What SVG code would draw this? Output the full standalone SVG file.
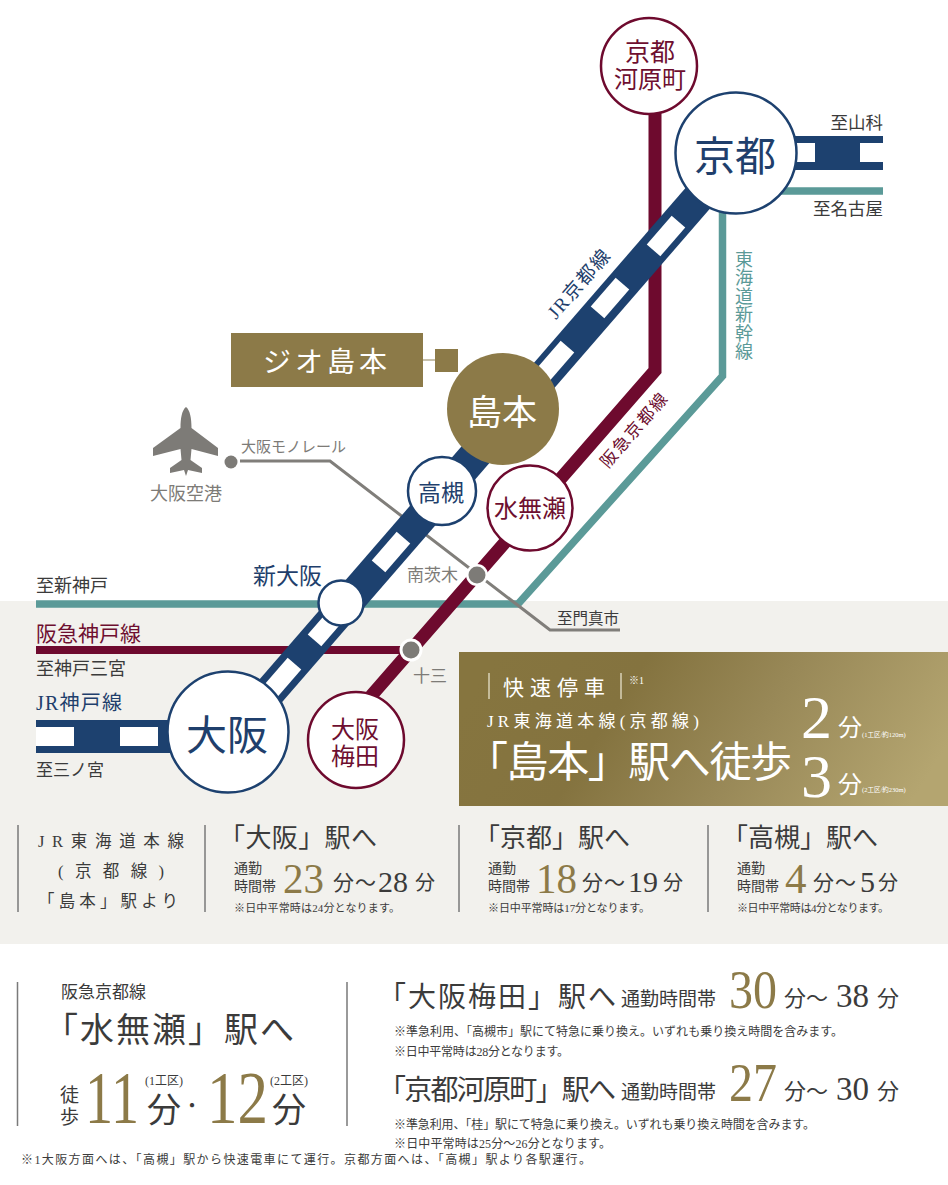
<svg xmlns="http://www.w3.org/2000/svg" xmlns:xlink="http://www.w3.org/1999/xlink" width="948" height="1185" viewBox="0 0 948 1185">
<style>
text{font-family:"Liberation Serif","Noto Sans CJK JP",serif;fill:#3b3b3b}
.m{text-anchor:middle}.e{text-anchor:end}
.n{fill:#1f3f6c}.r{fill:#6e0f30}.g{fill:#7d7b77}.t{fill:#5b9a98}.w{fill:#fff}.o{fill:#8c7a48}
.cw{fill:#fff;stroke-width:2.5}
.nv{stroke:#1d416f}.rd{stroke:#6e0a2e}
.ln{fill:none}
.bar{stroke:#7a7a7a;stroke-width:1.5}
.wb{stroke:#d9d2b8;stroke-width:1.5}
</style>
<defs>
<linearGradient id="gold" x1="0" y1="0.4" x2="1" y2="0.6"><stop offset="0" stop-color="#86753f"/><stop offset="0.3" stop-color="#84733f"/><stop offset="0.6" stop-color="#988857"/><stop offset="1" stop-color="#b4a570"/></linearGradient>
<rect id="st" x="-19" y="-9" width="38" height="18" fill="#fff"/>
</defs>
<rect width="948" height="1185" fill="#fff"/>
<rect id="band" x="0" y="601" width="948" height="343" fill="#f2f1ed"/>
<g id="connectors">
<path class="ln" d="M883 191H722.500V376L518 604H36" stroke="#5b9a98" stroke-width="7.500"/>
<path class="ln" d="M36 650H405" stroke="#6e0a2e" stroke-width="8"/>
<path class="ln" d="M240 461H330L550 630H620" stroke="#807e7a" stroke-width="3"/>
<path class="ln" d="M655 100V370.500L371 696" stroke="#6e0a2e" stroke-width="13"/>
<path class="ln" d="M229 739L737 153" stroke="#1d416f" stroke-width="32"/>
<path class="ln" d="M737 153H883" stroke="#1d416f" stroke-width="34"/>
<path class="ln" d="M36 736.500H229" stroke="#1d416f" stroke-width="33"/>
<g id="rail-stripes">
<use xlink:href="#st" href="#st" transform="translate(666 236) rotate(-49)"/>
<use xlink:href="#st" href="#st" transform="translate(610 298) rotate(-49)"/>
<use xlink:href="#st" href="#st" transform="translate(555 361) rotate(-49)"/>
<use xlink:href="#st" href="#st" transform="translate(391 552) rotate(-49)"/>
<use xlink:href="#st" href="#st" transform="translate(327 626) rotate(-49)"/>
<use xlink:href="#st" href="#st" transform="translate(282 678) rotate(-49)"/>
<rect x="790" y="143" width="25" height="19" fill="#fff"/>
<rect x="860" y="143" width="24" height="19" fill="#fff"/>
<rect x="36" y="727" width="38" height="19" fill="#fff"/>
<rect x="120" y="727" width="38" height="19" fill="#fff"/>
</g>
<path class="ln" d="M423 360H435" stroke="#b5ad92" stroke-width="1.500"/>
</g>
<g id="line-labels">
<text class="n" font-size="19" transform="translate(556 320) rotate(-49)" textLength="84">JR京都線</text>
<text class="r" font-size="17" transform="translate(608 469) rotate(-49)" textLength="92">阪急京都線</text>
<text class="t" font-size="18" x="742" y="250" style="writing-mode:vertical-rl;letter-spacing:0.500px">東海道新幹線</text>
<text font-size="17.500" class="e" x="883" y="129">至山科</text>
<text font-size="17.500" class="e" x="883" y="215">至名古屋</text>
<text class="g" font-size="15" x="241" y="452">大阪モノレール</text>
<text font-size="15.500" x="557" y="624">至門真市</text>
<text font-size="18" x="36" y="592">至新神戸</text>
<text class="r" font-size="21" x="36" y="641">阪急神戸線</text>
<text font-size="18" x="36" y="675">至神戸三宮</text>
<text class="n" font-size="20" x="36" y="710" textLength="86">JR神戸線</text>
<text font-size="17" x="36" y="776">至三ノ宮</text>
</g>
<g id="kawaramachi">
<circle class="cw rd" cx="649" cy="66" r="48"/>
<text class="r m" font-size="25" x="650" y="61">京都</text>
<text class="r m" font-size="24" x="650" y="88">河原町</text>
</g>
<g id="kyoto">
<circle class="cw nv" cx="736" cy="153" r="60.500"/>
<text class="n m" font-size="41" x="735" y="171">京都</text>
</g>
<g id="geo-shimamoto">
<rect x="231" y="333" width="192" height="54" fill="#8c7a48"/>
<text class="w" font-size="28" x="263" y="372" style="letter-spacing:4px">ジオ島本</text>
<rect x="435" y="349" width="23" height="23" fill="#8c7a48"/>
</g>
<g id="shimamoto">
<circle cx="503" cy="409" r="56" fill="#8c7a48"/>
<text class="w m" font-size="35" x="502" y="425">島本</text>
</g>
<g id="osaka-airport">
<path fill="#7d7b77" d="M186 407C190 410 191.500 418 191.500 428L218 448V456L191.500 449L190.500 460L202 468V473L188 470L186 476L184 470L170 473V468L181.500 460L180.500 449L153 456V448L180.500 428C180.500 418 182 410 186 407Z"/>
<text class="g m" font-size="18" x="186" y="500">大阪空港</text>
<circle cx="231" cy="462" r="6.500" fill="#7d7b77"/>
</g>
<g id="takatsuki">
<circle class="cw nv" cx="442" cy="491" r="34"/>
<text class="n m" font-size="23" x="441" y="501">高槻</text>
</g>
<g id="minase">
<circle class="cw rd" cx="530" cy="508" r="42.500"/>
<text class="r m" font-size="24" x="530" y="517">水無瀬</text>
</g>
<g id="shin-osaka">
<circle class="cw nv" cx="341" cy="603" r="22.500"/>
<text class="n" font-size="23" x="253" y="584">新大阪</text>
</g>
<g id="minami-ibaraki">
<circle cx="477" cy="575" r="11" fill="#fff"/>
<circle cx="477" cy="575" r="8.500" fill="#7d7b77"/>
<text class="g" font-size="17" x="407" y="581">南茨木</text>
</g>
<g id="juso">
<circle cx="411" cy="650" r="11.500" fill="#fff"/>
<circle cx="411" cy="650" r="8.500" fill="#7d7b77"/>
<text class="g" font-size="17" x="413" y="682">十三</text>
</g>
<g id="osaka">
<circle class="cw nv" cx="228" cy="732" r="60.500"/>
<text class="n m" font-size="41" x="227" y="750">大阪</text>
</g>
<g id="umeda">
<circle class="cw rd" cx="356" cy="740" r="48"/>
<text class="r m" font-size="24" x="355" y="738">大阪</text>
<text class="r m" font-size="24" x="355" y="765">梅田</text>
</g>
<g id="rapid-panel">
<rect x="459" y="652" width="489" height="154" fill="url(#gold)"/>
<path class="wb" d="M489 673V699M621 673V699"/>
<text class="w" font-size="21" x="503" y="695" style="letter-spacing:6px">快速停車</text>
<text class="w" font-size="10" x="629" y="684">※1</text>
<text class="w" font-size="17" x="487" y="727" textLength="212">JR東海道本線(京都線)</text>
<text class="w" font-size="42" x="466" y="777" textLength="326">「島本」駅へ徒歩</text>
<text class="w" font-size="62" x="801" y="738">2</text>
<text class="w" font-size="24" x="838" y="736">分</text>
<text class="w" font-size="6.500" x="862" y="737">(1工区/約120m)</text>
<text class="w" font-size="62" x="801" y="797">3</text>
<text class="w" font-size="24" x="838" y="793">分</text>
<text class="w" font-size="6.500" x="862" y="792">(2工区/約230m)</text>
</g>
<g id="jr-times">
<path class="bar" d="M18 825V912M205 825V912M459 825V912M708 825V912"/>
<text class="m" font-size="16.500" x="111" y="847" textLength="146">JR東海道本線</text>
<text class="m" font-size="16.500" x="111" y="877" textLength="106">(京都線)</text>
<text class="m" font-size="16.500" x="108" y="907" textLength="140">「島本」駅より</text>
<g id="to-osaka">
<text font-size="26" x="219" y="847" textLength="158">「大阪」駅へ</text>
<text font-size="14" x="234" y="873">通勤</text>
<text font-size="14" x="234" y="891">時間帯</text>
<text class="o" font-size="43" x="283" y="893" textLength="41" lengthAdjust="spacingAndGlyphs">23</text>
<text font-size="21" x="333" y="890">分</text><text font-size="21" x="355" y="890">～</text>
<text font-size="30" x="378" y="892">28</text>
<text font-size="20" x="415" y="890">分</text>
<text font-size="11" x="234" y="912" textLength="166">※日中平常時は24分となります。</text>
</g>
<g id="to-kyoto">
<text font-size="26" x="474" y="847" textLength="156">「京都」駅へ</text>
<text font-size="14" x="488" y="873">通勤</text>
<text font-size="14" x="488" y="891">時間帯</text>
<text class="o" font-size="43" x="536" y="893" textLength="41" lengthAdjust="spacingAndGlyphs">18</text>
<text font-size="21" x="582" y="890">分</text><text font-size="21" x="604" y="890">～</text>
<text font-size="30" x="628" y="892">19</text>
<text font-size="20" x="663" y="890">分</text>
<text font-size="11" x="488" y="912" textLength="162">※日中平常時は17分となります。</text>
</g>
<g id="to-takatsuki">
<text font-size="26" x="722" y="847" textLength="156">「高槻」駅へ</text>
<text font-size="14" x="737" y="873">通勤</text>
<text font-size="14" x="737" y="891">時間帯</text>
<text class="o" font-size="43" x="785" y="893">4</text>
<text font-size="21" x="813" y="890">分</text><text font-size="21" x="835" y="890">～</text>
<text font-size="30" x="860" y="892">5</text>
<text font-size="20" x="878" y="890">分</text>
<text font-size="11" x="737" y="912" textLength="152">※日中平常時は4分となります。</text>
</g>
</g>
<g id="minase-panel">
<path class="bar" d="M17.500 982V1126M347 982V1126"/>
<text font-size="17" x="61" y="998">阪急京都線</text>
<text font-size="34" x="44" y="1042" textLength="250">「水無瀬」駅へ</text>
<text font-size="19" x="60" y="1102">徒</text>
<text font-size="19" x="60" y="1124">歩</text>
<text class="o" font-size="73" x="85" y="1123" textLength="54" lengthAdjust="spacingAndGlyphs">11</text>
<text font-size="34" x="147" y="1122">分</text>
<text font-size="12" x="145" y="1085">(1工区)</text>
<text font-size="20" class="m" x="192" y="1113">・</text>
<text class="o" font-size="73" x="207" y="1123" textLength="61" lengthAdjust="spacingAndGlyphs">12</text>
<text font-size="34" x="272" y="1122">分</text>
<text font-size="12" x="270" y="1085">(2工区)</text>
</g>
<g id="hankyu-times">
<text font-size="28" x="378" y="1007" textLength="238">「大阪梅田」駅へ</text>
<text font-size="19" x="621" y="1006">通勤時間帯</text>
<text class="o" font-size="54" x="729" y="1008" textLength="48" lengthAdjust="spacingAndGlyphs">30</text>
<text font-size="22" x="784" y="1006">分</text><text font-size="22" x="806" y="1006">～</text>
<text font-size="33" x="836" y="1007">38</text>
<text font-size="22" x="877" y="1006">分</text>
<text font-size="12" x="394" y="1036" textLength="449">※準急利用、「高槻市」駅にて特急に乗り換え。いずれも乗り換え時間を含みます。</text>
<text font-size="12" x="394" y="1056" textLength="175">※日中平常時は28分となります。</text>
<text font-size="28" x="378" y="1100" textLength="238">「京都河原町」駅へ</text>
<text font-size="19" x="621" y="1099">通勤時間帯</text>
<text class="o" font-size="54" x="729" y="1101" textLength="48" lengthAdjust="spacingAndGlyphs">27</text>
<text font-size="22" x="784" y="1099">分</text><text font-size="22" x="806" y="1099">～</text>
<text font-size="33" x="836" y="1100">30</text>
<text font-size="22" x="877" y="1099">分</text>
<text font-size="12" x="394" y="1129" textLength="421">※準急利用、「桂」駅にて特急に乗り換え。いずれも乗り換え時間を含みます。</text>
<text font-size="12" x="394" y="1148" textLength="217">※日中平常時は25分～26分となります。</text>
</g>
<text font-size="12" x="21" y="1164" textLength="570">※1大阪方面へは、「高槻」駅から快速電車にて運行。京都方面へは、「高槻」駅より各駅運行。</text>
</svg>
